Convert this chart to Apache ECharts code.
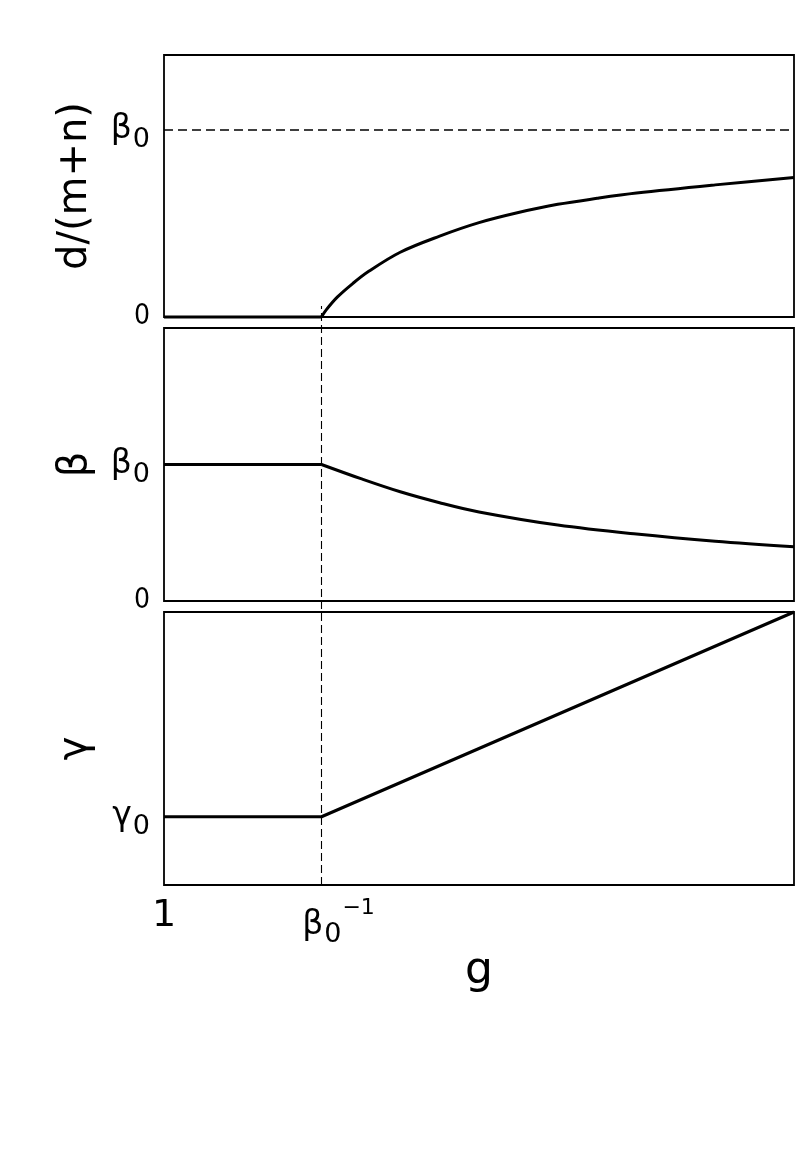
<!DOCTYPE html>
<html>
<head>
<meta charset="utf-8">
<script src="https://cdn.jsdelivr.net/npm/echarts@6/dist/echarts.min.js"></script>
<style>
  html, body { margin: 0; padding: 0; background: #fff; }
  #chart { width: 804px; height: 1164px; }
</style>
</head>
<body>
<div id="chart"></div>
<script>
// g axis (shared by all three panels)
const gMin = 1;
const gMax = 5;
const gCritical = 2;           // beta0^-1
const xTicks = [1, 2];

// top panel: d/(m+n)
const dFlatG   = [1, 2];
const dFlatVal = [0, 0];
const dG   = [2, 2.03, 2.1, 2.2, 2.3, 2.5, 2.75, 3, 3.25, 3.5, 3.75, 4, 4.5, 5];
const dVal = [0, 0.019, 0.053, 0.090, 0.122, 0.173, 0.216, 0.252, 0.279, 0.301, 0.317, 0.331, 0.353, 0.373];
const beta0 = 0.5;
const dTicks = [0, 0.5];

// middle panel: beta
const bFlatG   = [1, 2];
const bFlatVal = [0.5, 0.5];
const bG   = [2, 2.25, 2.5, 2.75, 3, 3.5, 4, 4.5, 5];
const bVal = [0.5, 0.448, 0.400, 0.360, 0.326, 0.278, 0.245, 0.219, 0.199];
const bTicks = [0, 0.5];

// bottom panel: gamma
const cG   = [1, 2, 5];
const cVal = [0.25, 0.25, 1];
const cTicks = [0.25];

const FONT = "'DejaVu Sans', 'Noto Sans', sans-serif";
const NARROW = "'DejaVu Sans Condensed', 'Liberation Sans Narrow', 'DejaVu Sans', sans-serif";

const rich = {
  b: { fontSize: 33, fontFamily: FONT, color: '#000' },
  s: { fontSize: 27, fontFamily: FONT, color: '#000', padding: [20, 0, 0, 1] },
  p: { fontSize: 22, fontFamily: FONT, color: '#000', padding: [0, 0, 34, 1] },
  z: { fontSize: 28, fontFamily: NARROW, color: '#000' },
  one: { fontSize: 38, fontFamily: FONT, color: '#000' },
  gap: { width: 34 }
};

function pair(g, v) { return g.map((x, i) => [x, v[i]]); }

const grids = [
  { left: 164, right: 10, top: 55, height: 262 },
  { left: 164, right: 10, top: 328, height: 273 },
  { left: 164, right: 10, top: 612, height: 273 },
  { left: 164, right: 10, top: 306, height: 579 }   // overlay for the guide line
].map((g, i) => Object.assign({
  show: i < 3, borderColor: '#000', borderWidth: 1.8, backgroundColor: 'transparent'
}, g));

function xAx(idx, labels) {
  return {
    type: 'value', gridIndex: idx, min: gMin, max: gMax,
    axisLine: { show: false }, axisTick: { show: false }, splitLine: { show: false },
    axisLabel: labels ? {
      show: true, customValues: xTicks, margin: 12, rich,
      formatter: v => v === 1 ? '{one|1}' : '{gap|}{b|β}{s|0}{p|−1}'
    } : { show: false },
    name: labels ? 'g' : '', nameLocation: 'middle', nameGap: 60,
    nameTextStyle: { fontSize: 44, fontFamily: FONT, color: '#000' }
  };
}

function yAx(idx, max, ticks, fmt, name) {
  return {
    type: 'value', gridIndex: idx, min: 0, max: max,
    axisLine: { show: false }, axisTick: { show: false }, splitLine: { show: false },
    axisLabel: ticks ? { show: true, customValues: ticks, margin: 14, rich, formatter: fmt } : { show: false },
    name: name || '', nameLocation: 'middle', nameGap: 68, nameRotate: 90,
    nameTextStyle: { fontSize: 40, fontFamily: FONT, color: '#000' }
  };
}

const betaLabel = v => v === 0 ? '{z|0}' : '{b|β}{s|0}';
const gammaLabel = () => '{b|γ}{s|0}';

const curve = { type: 'line', showSymbol: false, clip: false, silent: true,
  lineStyle: { color: '#000', width: 3 } };

const option = {
  animation: false,
  backgroundColor: '#fff',
  grid: grids,
  xAxis: [xAx(0, false), xAx(1, false), xAx(2, true), xAx(3, false)],
  yAxis: [
    yAx(0, 0.7, dTicks, betaLabel, 'd/(m+n)'),
    yAx(1, 1, bTicks, betaLabel, 'β'),
    yAx(2, 1, cTicks, gammaLabel, 'γ'),
    Object.assign(yAx(3, 1, null, null, ''), { show: false })
  ],
  series: [
    Object.assign({}, curve, { xAxisIndex: 0, yAxisIndex: 0, data: pair(dFlatG, dFlatVal) }),
    Object.assign({}, curve, {
      xAxisIndex: 0, yAxisIndex: 0, data: pair(dG, dVal), smooth: 0.35,
      markLine: {
        silent: true, symbol: 'none', label: { show: false },
        lineStyle: { color: '#000', width: 1.5, type: [9, 5] },
        data: [{ yAxis: beta0 }]
      }
    }),
    Object.assign({}, curve, { xAxisIndex: 1, yAxisIndex: 1, data: pair(bFlatG, bFlatVal) }),
    Object.assign({}, curve, { xAxisIndex: 1, yAxisIndex: 1, data: pair(bG, bVal), smooth: 0.35 }),
    Object.assign({}, curve, { xAxisIndex: 2, yAxisIndex: 2, data: pair(cG, cVal) }),
    {
      type: 'line', xAxisIndex: 3, yAxisIndex: 3, data: [], silent: true,
      markLine: {
        silent: true, symbol: 'none', label: { show: false },
        lineStyle: { color: '#000', width: 1.1, type: [8, 4] },
        data: [{ xAxis: gCritical }]
      }
    }
  ]
};

const chart = echarts.init(document.getElementById('chart'), null, { renderer: 'canvas' });
chart.setOption(option);
</script>
</body>
</html>
